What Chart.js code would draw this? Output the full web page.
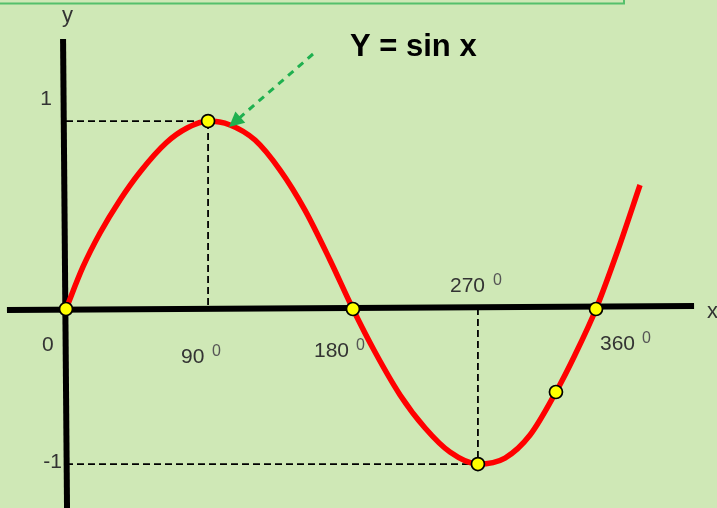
<!DOCTYPE html>
<html>
<head>
<meta charset="utf-8">
<script src="https://cdn.jsdelivr.net/npm/chart.js@4/dist/chart.umd.min.js"></script>
<style>
  html, body { margin: 0; padding: 0; background: #cfe8b6; overflow: hidden; }
  #wrap { width: 717px; height: 508px; position: relative; }
</style>
</head>
<body>
<div id="wrap"><canvas id="c"></canvas></div>
<script>
// ---- data (x in degrees, y in sine units) ----
const curveX = [0, 11.5, 23.1, 36.7, 50.3, 67.9, 82.2, 96.5, 111.4, 128.4, 145.4, 162.3, 179.3, 194.9, 209.9, 226.9, 243.9, 260.8, 279.8, 298.2, 315.2, 332.8, 345.7, 360, 374.9, 389.9];
const curveY = [0, 0.245, 0.443, 0.636, 0.799, 0.968, 1.055, 1.096, 1.073, 0.985, 0.810, 0.577, 0.286, 0, -0.251, -0.501, -0.694, -0.834, -0.904, -0.869, -0.735, -0.484, -0.268, 0, 0.344, 0.723];
const markerX = [0, 96.5, 194.9, 279.8, 360, 332.8];
const markerY = [0, 1.096, 0, -0.904, 0, -0.484];
const xTickLabels = ['0', '90', '180', '270', '360'];
const yTickLabels = ['1', '-1'];
const titleText = 'Y = sin x';

const BG = '#cfe8b6';
const toPts = (xs, ys) => xs.map((x, i) => ({ x: x, y: ys[i] }));

const peakGuide = [{ x: 0, y: markerY[1] }, { x: markerX[1], y: markerY[1] }, { x: markerX[1], y: 0 }];
const troughGuide = [{ x: 0, y: markerY[3] }, { x: markerX[3], y: markerY[3] }, { x: markerX[3], y: 0 }];

const decor = {
  id: 'decor',
  beforeDraw(chart) {
    const ctx = chart.ctx;
    ctx.save();
    ctx.fillStyle = BG;
    ctx.fillRect(0, 0, chart.width, chart.height);
    // top green frame edge
    ctx.strokeStyle = '#55c06b';
    ctx.lineWidth = 2;
    ctx.beginPath();
    ctx.moveTo(0, 3.5);
    ctx.lineTo(624, 3.5);
    ctx.lineTo(624, 0);
    ctx.stroke();
    ctx.restore();
  },
  beforeDatasetsDraw(chart) {
    const ctx = chart.ctx;
    const xs = chart.scales.x, ys = chart.scales.y;
    ctx.save();
    ctx.strokeStyle = '#000';
    ctx.lineWidth = 6;
    ctx.lineCap = 'butt';
    // x axis
    ctx.beginPath();
    ctx.moveTo(xs.getPixelForValue(-40.1), ys.getPixelForValue(-0.006));
    ctx.lineTo(xs.getPixelForValue(426.6), ys.getPixelForValue(0.0175));
    ctx.stroke();
    // y axis
    ctx.beginPath();
    ctx.moveTo(xs.getPixelForValue(-2.0), ys.getPixelForValue(1.574));
    ctx.lineTo(xs.getPixelForValue(0.7), ys.getPixelForValue(-1.1603));
    ctx.stroke();
    ctx.restore();
  },
  afterDraw(chart) {
    const ctx = chart.ctx;
    ctx.save();
    // title
    ctx.fillStyle = '#000';
    ctx.font = 'bold 31px "Liberation Sans", Arial, sans-serif';
    ctx.textAlign = 'left';
    ctx.textBaseline = 'alphabetic';
    ctx.fillText(titleText, 350, 56);

    // axis names
    ctx.fillStyle = '#333';
    ctx.font = '22px "Liberation Sans", Arial, sans-serif';
    ctx.fillText('y', 62, 22);
    ctx.fillText('x', 707, 318);

    // y tick labels
    ctx.font = '21px "Liberation Sans", Arial, sans-serif';
    ctx.textAlign = 'right';
    ctx.fillText(yTickLabels[0], 52, 105);
    ctx.fillText(yTickLabels[1], 62, 468);

    // x tick labels with degree superscripts
    const xl = [
      [42, 351, null],
      [181, 363, [212, 356]],
      [314, 357, [356, 350]],
      [450, 292, [493, 285]],
      [600, 350, [642, 343]]
    ];
    ctx.textAlign = 'left';
    xl.forEach((p, i) => {
      ctx.fillStyle = '#333';
      ctx.font = '21px "Liberation Sans", Arial, sans-serif';
      ctx.fillText(xTickLabels[i], p[0], p[1]);
      if (p[2]) {
        ctx.fillStyle = '#555';
        ctx.font = '16px "Liberation Sans", Arial, sans-serif';
        ctx.fillText('0', p[2][0], p[2][1]);
      }
    });

    // green dashed arrow pointing to the peak
    const x0 = 313, y0 = 54, x1 = 229, y1 = 127;
    const dx = x1 - x0, dy = y1 - y0, len = Math.hypot(dx, dy);
    const ux = dx / len, uy = dy / len;
    const headLen = 15, headW = 7.5;
    const bx = x1 - ux * headLen, by = y1 - uy * headLen;
    ctx.strokeStyle = '#1fb04f';
    ctx.fillStyle = '#1fb04f';
    ctx.lineWidth = 3;
    ctx.setLineDash([7, 6]);
    ctx.beginPath();
    ctx.moveTo(x0, y0);
    ctx.lineTo(bx + ux * 2, by + uy * 2);
    ctx.stroke();
    ctx.setLineDash([]);
    ctx.beginPath();
    ctx.moveTo(x1, y1);
    ctx.lineTo(bx - uy * headW, by + ux * headW);
    ctx.lineTo(bx + uy * headW, by - ux * headW);
    ctx.closePath();
    ctx.fill();
    ctx.restore();
  }
};

new Chart(document.getElementById('c'), {
  type: 'scatter',
  data: {
    datasets: [
      {
        label: 'points',
        data: toPts(markerX, markerY),
        showLine: false,
        pointRadius: 6.5,
        pointBackgroundColor: '#ffff00',
        pointBorderColor: '#000',
        pointBorderWidth: 1.7,
        order: 0
      },
      {
        label: 'y = sin x',
        data: toPts(curveX, curveY),
        showLine: true,
        borderColor: '#ff0000',
        borderWidth: 5.5,
        pointRadius: 0,
        cubicInterpolationMode: 'monotone',
        order: 1
      },
      {
        label: 'peak guide',
        data: peakGuide,
        showLine: true,
        borderColor: '#000',
        borderWidth: 1.8,
        borderDash: [7, 4],
        pointRadius: 0,
        order: 2
      },
      {
        label: 'trough guide',
        data: troughGuide,
        showLine: true,
        borderColor: '#000',
        borderWidth: 1.8,
        borderDash: [7, 4],
        pointRadius: 0,
        order: 2
      }
    ]
  },
  options: {
    responsive: true,
    maintainAspectRatio: false,
    animation: false,
    devicePixelRatio: 1,
    layout: { padding: 0, autoPadding: false },
    plugins: { legend: { display: false }, title: { display: false }, tooltip: { enabled: false } },
    scales: {
      x: { type: 'linear', min: -44.83, max: 442.19, display: false },
      y: { type: 'linear', min: -1.1603, max: 1.8017, display: false }
    }
  },
  plugins: [decor]
});
</script>
</body>
</html>
